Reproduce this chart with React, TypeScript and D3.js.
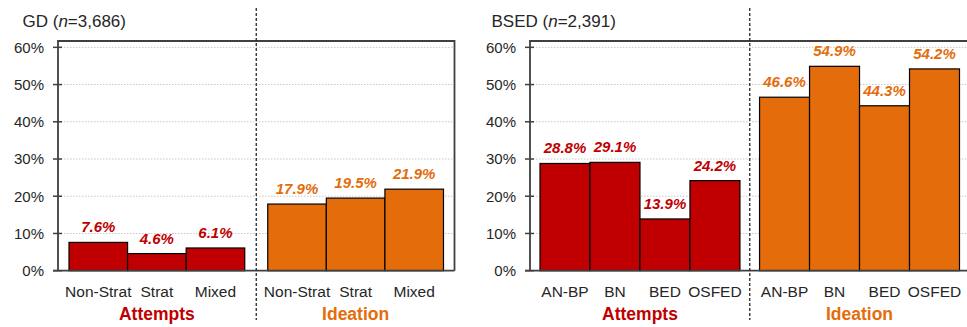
import React from "react";
import * as d3 from "d3";

const groups = ["Attempts", "Ideation"];
const gdCategories = ["Non-Strat", "Strat", "Mixed"];
const gdAttempts = [7.6, 4.6, 6.1];
const gdIdeation = [17.9, 19.5, 21.9];
const bsedCategories = ["AN-BP", "BN", "BED", "OSFED"];
const bsedAttempts = [28.8, 29.1, 13.9, 24.2];
const bsedIdeation = [46.6, 54.9, 44.3, 54.2];
const yTicks = [0, 10, 20, 30, 40, 50, 60];

const W = 967;
const H = 327;
const FONT = "'Liberation Sans', Arial, Helvetica, sans-serif";
const RED = "#C00000";
const ORANGE = "#E46C0A";
const FRAME = "#404040";
const groupColors = [RED, ORANGE];

const yTop = 41;
const yBottom = 270.7;
const y = d3.scaleLinear().domain([0, 61.7]).range([yBottom, yTop]);

type PanelProps = {
  label: string;
  n: string;
  x0: number;
  x1: number;
  innerPx: number;
  outerPx: number;
  categories: string[];
  series: number[][];
  titleX: number;
};

function Panel({ label, n, x0, x1, innerPx, outerPx, categories, series, titleX }: PanelProps) {
  const total = x1 - x0;
  const groupW = (total - innerPx - 2 * outerPx) / 2;
  const step = groupW + innerPx;
  const gScale = d3
    .scaleBand<string>()
    .domain(groups)
    .range([x0, x1])
    .paddingInner(innerPx / step)
    .paddingOuter(outerPx / step);
  const dividerX = (gScale("Attempts")! + gScale.bandwidth() + gScale("Ideation")!) / 2;

  return (
    <g>
      {/* gridlines */}
      {yTicks
        .filter((t) => t > 0)
        .map((t) => (
          <line
            key={"g" + t}
            x1={x0}
            x2={x1}
            y1={y(t)}
            y2={y(t)}
            stroke="#c8c8c8"
            strokeWidth={1}
            strokeDasharray="1.5 1.5"
          />
        ))}
      {/* bars */}
      {groups.map((g, gi) => {
        const inner = d3
          .scaleBand<string>()
          .domain(categories)
          .range([gScale(g)!, gScale(g)! + gScale.bandwidth()])
          .padding(0);
        return (
          <g key={g}>
            {categories.map((c, ci) => {
              const v = series[gi][ci];
              return (
                <rect
                  key={c}
                  x={inner(c)!}
                  y={y(v)}
                  width={inner.bandwidth()}
                  height={y(0) - y(v)}
                  fill={groupColors[gi]}
                  stroke="#000"
                  strokeWidth={1.2}
                />
              );
            })}
            {categories.map((c, ci) => {
              const v = series[gi][ci];
              return (
                <text
                  key={"v" + c}
                  x={inner(c)! + inner.bandwidth() / 2}
                  y={y(v) - 10}
                  textAnchor="middle"
                  fontFamily={FONT}
                  fontSize={15}
                  fontWeight="bold"
                  fontStyle="italic"
                  fill={groupColors[gi]}
                >
                  {v.toFixed(1) + "%"}
                </text>
              );
            })}
            {categories.map((c) => (
              <text
                key={"c" + c}
                x={inner(c)! + inner.bandwidth() / 2}
                y={297}
                textAnchor="middle"
                fontFamily={FONT}
                fontSize={15.5}
                fill="#262626"
              >
                {c}
              </text>
            ))}
            <text
              x={gScale(g)! + gScale.bandwidth() / 2}
              y={319.5}
              textAnchor="middle"
              fontFamily={FONT}
              fontSize={17.5}
              fontWeight="bold"
              fill={groupColors[gi]}
            >
              {g}
            </text>
          </g>
        );
      })}
      {/* frame */}
      <path
        d={`M${x0},${yBottom} L${x0},${yTop} L${x1},${yTop} L${x1},${yBottom}`}
        fill="none"
        stroke={FRAME}
        strokeWidth={1.8}
      />
      <line x1={x0 - 5} x2={x1} y1={yBottom} y2={yBottom} stroke={FRAME} strokeWidth={1.8} />
      {/* y ticks */}
      {yTicks.map((t) => (
        <g key={"t" + t}>
          <line x1={x0 - 5} x2={x0 + 4} y1={y(t)} y2={y(t)} stroke={FRAME} strokeWidth={1.5} />
          <text
            x={x0 - 14}
            y={y(t) + 5.3}
            textAnchor="end"
            fontFamily={FONT}
            fontSize={15}
            fill="#262626"
          >
            {t + "%"}
          </text>
        </g>
      ))}
      {/* divider */}
      <line
        x1={dividerX}
        x2={dividerX}
        y1={8}
        y2={320}
        stroke="#262626"
        strokeWidth={1.3}
        strokeDasharray="3 2"
      />
      {/* title */}
      <text x={titleX} y={26.5} fontFamily={FONT} fontSize={17} fill="#262626">
        {label + " ("}
        <tspan fontStyle="italic">n</tspan>
        {"=" + n + ")"}
      </text>
    </g>
  );
}

export default function App() {
  return (
    <svg
      width={W}
      height={H}
      viewBox={`0 0 ${W} ${H}`}
      style={{ position: "absolute", left: 0, top: 0, background: "#fff" }}
    >
      <rect x={0} y={0} width={W} height={H} fill="#fff" />
      <Panel
        label="GD"
        n="3,686"
        x0={58}
        x1={454.5}
        innerPx={23}
        outerPx={11}
        categories={gdCategories}
        series={[gdAttempts, gdIdeation]}
        titleX={22.5}
      />
      <Panel
        label="BSED"
        n="2,391"
        x0={530}
        x1={969.5}
        innerPx={19.6}
        outerPx={10}
        categories={bsedCategories}
        series={[bsedAttempts, bsedIdeation]}
        titleX={491.5}
      />
    </svg>
  );
}
